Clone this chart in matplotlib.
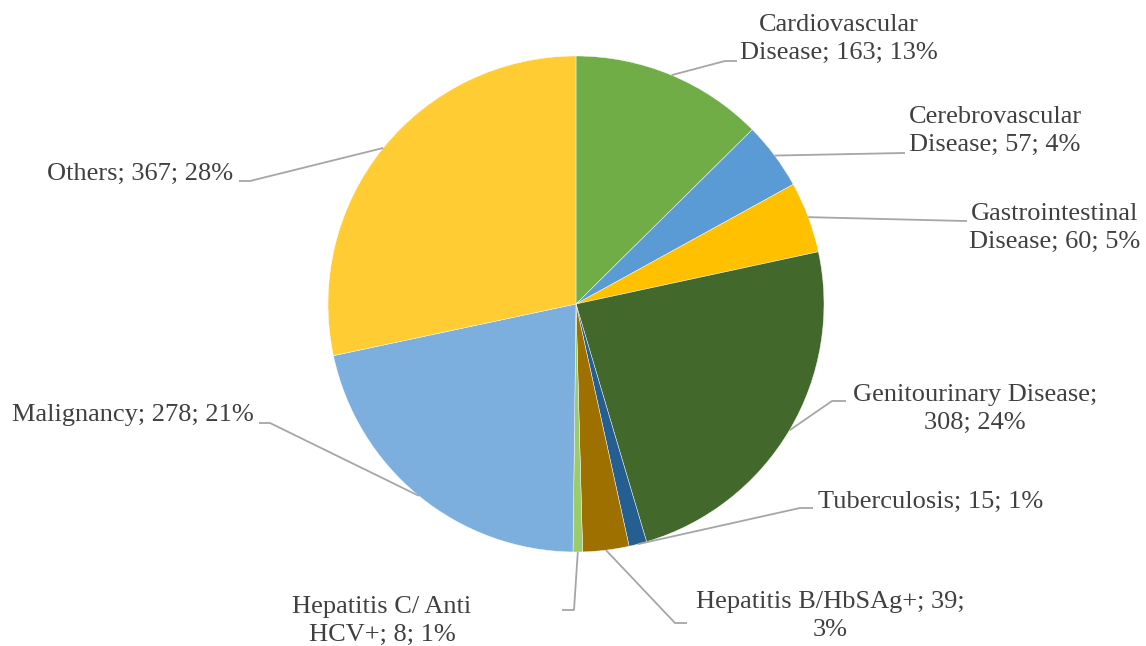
import numpy as np
import matplotlib.pyplot as plt

# data
categories = ["Cardiovascular Disease", "Cerebrovascular Disease", "Gastrointestinal Disease",
              "Genitourinary Disease", "Tuberculosis", "Hepatitis B/HbSAg+",
              "Hepatitis C/ Anti HCV+", "Malignancy", "Others"]
counts = [163, 57, 60, 308, 15, 39, 8, 278, 367]
percents = [13, 4, 5, 24, 1, 3, 1, 21, 28]
label_text = [
    "Cardiovascular\nDisease; 163; 13%",
    "Cerebrovascular\nDisease; 57; 4%",
    "Gastrointestinal\nDisease; 60; 5%",
    "Genitourinary Disease;\n308; 24%",
    "Tuberculosis; 15; 1%",
    "Hepatitis B/HbSAg+; 39;\n3%",
    "Hepatitis C/ Anti\nHCV+; 8; 1%",
    "Malignancy; 278; 21%",
    "Others; 367; 28%",
]
colors = ["#70AD47", "#5B9BD5", "#FFC000", "#43682B", "#255E91",
          "#9E7000", "#9BCB6B", "#7CAFDD", "#FFCD33"]

# layout (pixels): text center, leader elbow, leader end
text_pos = [(839, 39), (995, 131), (1055, 228), (975, 409), (931, 502),
            (830, 616), (382, 621), (133, 415), (140, 174)]
elbow = [(725, 61), (903, 153), (965, 221), (832, 401), (800, 508),
         (675, 623), (574, 610), (270, 423), (250, 181)]
line_end = [(737, 61), (905, 153), (967, 221), (846, 401), (813, 508),
            (687, 623), (562, 610), (259, 423), (239, 181)]

W, H = 1146, 646
CX, CY, R = 576, 304, 248


def px(x, y):
    return (x - CX) / R, (CY - y) / R


fig = plt.figure(figsize=(W / 100, H / 100), dpi=100)
ax = fig.add_axes([0, 0, 1, 1])
ax.pie(counts, colors=colors, startangle=90, counterclock=False, radius=1,
       wedgeprops=dict(edgecolor="white", linewidth=0.3))
ax.set_xlim(px(0, 0)[0], px(W, 0)[0])
ax.set_ylim(px(0, H)[1], px(0, 0)[1])
ax.set_aspect("equal")
ax.axis("off")

total = sum(counts)
cum = np.cumsum([0] + counts)
for i, txt in enumerate(label_text):
    mid = (cum[i] + cum[i + 1]) / 2 / total * 2 * np.pi
    ax0 = np.sin(mid)
    ay0 = np.cos(mid)
    ex, ey = px(*elbow[i])
    lx, ly = px(*line_end[i])
    ax.plot([ax0, ex, lx], [ay0, ey, ly], color="#A6A6A6", lw=1.3,
            solid_capstyle="butt")
    tx, ty = px(*text_pos[i])
    ax.text(tx, ty, txt, ha="center", va="center", multialignment="center",
            fontsize=19, family="Liberation Serif", color="#404040",
            linespacing=1.3)

fig.savefig("out.png", dpi=100)
